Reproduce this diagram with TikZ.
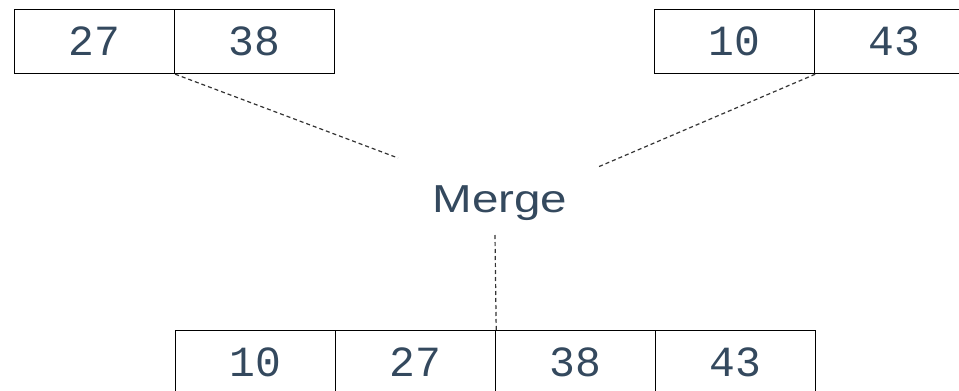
\documentclass[tikz,border=0pt]{standalone}
\usepackage{fontspec}
\setmainfont{Liberation Sans}
\newfontfamily\cellfont{Liberation Mono}
\definecolor{txt}{HTML}{34495E}
\definecolor{dash}{HTML}{333333}
\begin{document}
\begin{tikzpicture}[x=1pt,y=-1pt,
  cell/.style={draw=black,line width=1.2pt,minimum width=160pt,minimum height=64pt,inner sep=0pt,
    font=\cellfont\fontsize{43}{43}\selectfont,text=txt,anchor=north west},
  conn/.style={draw=dash,line width=1.2pt,dash pattern=on 4pt off 3pt}]
\useasboundingbox (0,0) rectangle (959,391);
\clip (0,0) rectangle (959,391);
% top left
\node[cell] (a1) at (14,9) {27};
\node[cell] (a2) at (174,9) {38};
% top right
\node[cell] (b1) at (654,9) {10};
\node[cell] (b2) at (814,9) {43};
% bottom
\node[cell] (c1) at (175,330) {10};
\node[cell] (c2) at (335,330) {27};
\node[cell] (c3) at (495,330) {38};
\node[cell] (c4) at (655,330) {43};
% merge label
\node[text=txt,font=\fontsize{39}{39}\selectfont,xscale=1.22] (m) at (500,203) {Merge};
\coordinate (l1) at (398,158);
\coordinate (r1) at (598,167);
\coordinate (v1) at (495,235);
\draw[conn] (a1.south east) -- (l1);
\draw[conn] (b1.south east) -- (r1);
\draw[conn] (v1) -- (c2.north east);
\end{tikzpicture}
\end{document}
